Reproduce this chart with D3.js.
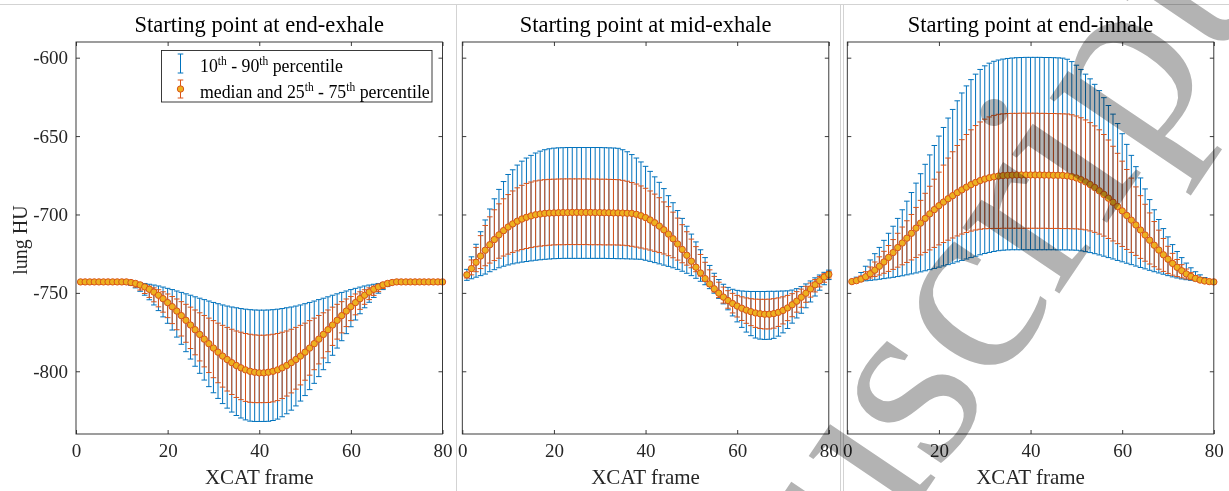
<!DOCTYPE html>
<html>
<head>
<meta charset="utf-8">
<script src="https://cdn.jsdelivr.net/npm/d3@7"></script>
<style>
	body { margin: 0; background: #fff; }
	svg { display: block; font-family: "Liberation Serif", "Times New Roman", serif; }
</style>
</head>
<body>
<svg id="chart" width="1229" height="491"></svg>
<script>
// categories
var frames = [
	1, 2, 3, 4, 5, 6, 7, 8, 9, 10, 11, 12, 13, 14, 15, 16, 17, 18, 19, 20,
	21, 22, 23, 24, 25, 26, 27, 28, 29, 30, 31, 32, 33, 34, 35, 36, 37, 38, 39, 40,
	41, 42, 43, 44, 45, 46, 47, 48, 49, 50, 51, 52, 53, 54, 55, 56, 57, 58, 59, 60,
	61, 62, 63, 64, 65, 66, 67, 68, 69, 70, 71, 72, 73, 74, 75, 76, 77, 78, 79, 80
];
var panelTitles = ["Starting point at end-exhale", "Starting point at mid-exhale", "Starting point at end-inhale"];
var xTicks = [0, 20, 40, 60, 80];
var yTicks = [-600, -650, -700, -750, -800];

// end-exhale
var endExhaleP10 = [
	-743, -743, -743, -743, -743, -743, -743, -743, -743, -743.2,
	-744.0, -745.2, -746.8, -749.0, -751.5, -754.4, -757.7, -761.3, -765.3, -769.4,
	-773.7, -778.2, -782.8, -787.5, -792.2, -796.8, -801.3, -805.6, -809.8, -813.7,
	-817.3, -820.6, -823.5, -826.0, -828.2, -829.8, -831.0, -831.8, -832.0, -832.0,
	-832.0, -831.9, -831.4, -830.5, -829.0, -827.1, -824.8, -822.1, -819.0, -815.5,
	-811.7, -807.7, -803.4, -799.0, -794.5, -789.8, -785.2, -780.5, -776.0, -771.6,
	-767.3, -763.3, -759.5, -756.0, -752.9, -750.2, -747.9, -746.0, -744.5, -743.6,
	-743.1, -743, -743, -743, -743, -743, -743, -743, -743, -743
];
var endExhaleQ25 = [
	-743, -743, -743, -743, -743, -743, -743, -743, -743, -743.2,
	-743.8, -744.9, -746.3, -748.2, -750.4, -752.9, -755.7, -758.9, -762.3, -765.8,
	-769.6, -773.5, -777.5, -781.5, -785.5, -789.5, -793.4, -797.2, -800.8, -804.1,
	-807.3, -810.1, -812.6, -814.8, -816.7, -818.1, -819.2, -819.8, -820.0, -820.0,
	-820.0, -819.9, -819.5, -818.7, -817.4, -815.8, -813.8, -811.4, -808.7, -805.7,
	-802.5, -799.0, -795.3, -791.5, -787.5, -783.5, -779.5, -775.5, -771.5, -767.7,
	-764.0, -760.5, -757.3, -754.3, -751.6, -749.2, -747.2, -745.6, -744.3, -743.5,
	-743.1, -743, -743, -743, -743, -743, -743, -743, -743, -743
];
var endExhaleMedian = [
	-743, -743, -743, -743, -743, -743, -743, -743, -743, -743,
	-743.0, -743.4, -744.0, -744.9, -746.2, -747.7, -749.5, -751.5, -753.7, -756.2,
	-758.8, -761.6, -764.5, -767.5, -770.5, -773.5, -776.5, -779.5, -782.4, -785.2,
	-787.8, -790.3, -792.5, -794.5, -796.3, -797.8, -799.1, -800.0, -800.6, -801.0,
	-801.0, -800.6, -800.0, -799.1, -797.8, -796.3, -794.5, -792.5, -790.3, -787.8,
	-785.2, -782.4, -779.5, -776.5, -773.5, -770.5, -767.5, -764.5, -761.6, -758.8,
	-756.2, -753.7, -751.5, -749.5, -747.7, -746.2, -744.9, -744.0, -743.4, -743.0,
	-743, -743, -743, -743, -743, -743, -743, -743, -743, -743
];
var endExhaleQ75 = [
	-743, -743, -743, -743, -743, -743, -743, -743, -743, -743,
	-743.0, -743.2, -743.6, -744.1, -744.9, -745.7, -746.8, -748.0, -749.3, -750.7,
	-752.3, -753.9, -755.6, -757.3, -759.1, -760.9, -762.7, -764.4, -766.1, -767.7,
	-769.3, -770.7, -772.0, -773.2, -774.3, -775.1, -775.9, -776.4, -776.8, -777.0,
	-777.0, -776.8, -776.4, -775.9, -775.1, -774.3, -773.2, -772.0, -770.7, -769.3,
	-767.7, -766.1, -764.4, -762.7, -760.9, -759.1, -757.3, -755.6, -753.9, -752.3,
	-750.7, -749.3, -748.0, -746.8, -745.7, -744.9, -744.1, -743.6, -743.2, -743.0,
	-743, -743, -743, -743, -743, -743, -743, -743, -743, -743
];
var endExhaleP90 = [
	-743, -743, -743, -743, -743, -743, -743, -743, -743, -743,
	-743.0, -743.1, -743.3, -743.6, -744.0, -744.5, -745.0, -745.6, -746.3, -747.1,
	-747.9, -748.8, -749.7, -750.6, -751.5, -752.5, -753.4, -754.3, -755.2, -756.1,
	-756.9, -757.7, -758.4, -759.0, -759.5, -760.0, -760.4, -760.7, -760.9, -761.0,
	-761.0, -760.9, -760.7, -760.4, -760.0, -759.5, -759.0, -758.4, -757.7, -756.9,
	-756.1, -755.2, -754.3, -753.4, -752.5, -751.5, -750.6, -749.7, -748.8, -747.9,
	-747.1, -746.3, -745.6, -745.0, -744.5, -744.0, -743.6, -743.3, -743.1, -743.0,
	-743, -743, -743, -743, -743, -743, -743, -743, -743, -743
];

// mid-exhale
var midExhaleP10 = [
	-742.0, -741.0, -740.0, -739.0, -738.0, -736.5, -735.2, -734.0, -733.0, -732.2,
	-731.5, -730.9, -730.4, -730.0, -729.6, -729.2, -728.9, -728.6, -728.4, -728.2,
	-728.1, -728.0, -728.0, -728.0, -728.0, -728.0, -728.0, -728.0, -728.0, -728.0,
	-728.0, -728.1, -728.1, -728.2, -728.2, -728.3, -728.4, -728.5, -728.6, -729.2,
	-729.9, -730.7, -731.5, -732.3, -733.1, -734.0, -735.0, -736.2, -737.5, -739.0,
	-740.7, -742.6, -744.8, -747.3, -750.2, -753.5, -757.0, -760.8, -764.7, -768.5,
	-772.0, -775.0, -777.3, -778.8, -779.5, -779.7, -779.6, -779.0, -777.6, -775.5,
	-772.7, -769.3, -766.0, -763.0, -759.5, -755.8, -752.0, -748.3, -744.8, -741.5
];
var midExhaleQ25 = [
	-740.5, -738.5, -736.5, -734.5, -732.7, -731.0, -729.4, -727.9, -726.5, -725.3,
	-724.2, -723.2, -722.4, -721.7, -721.1, -720.6, -720.2, -719.9, -719.6, -719.4,
	-719.3, -719.3, -719.2, -719.2, -719.2, -719.2, -719.2, -719.3, -719.3, -719.3,
	-719.4, -719.4, -719.4, -719.5, -719.6, -719.9, -720.3, -720.8, -721.4, -722.0,
	-722.7, -723.5, -724.3, -725.2, -726.3, -727.6, -729.1, -730.8, -732.3, -734.0,
	-736.5, -739.3, -742.4, -745.8, -749.4, -753.0, -756.5, -759.8, -762.8, -765.4,
	-767.6, -769.4, -770.9, -772.0, -772.7, -773.0, -773.0, -772.5, -771.4, -769.8,
	-767.7, -765.2, -762.3, -759.2, -756.0, -752.7, -749.4, -746.2, -743.2, -740.5
];
var midExhaleMedian = [
	-738.5, -734.5, -730.5, -726.5, -722.8, -719.3, -716.0, -713.0, -710.3, -708.0,
	-706.0, -704.3, -702.9, -701.8, -700.9, -700.2, -699.7, -699.3, -699.1, -699.0,
	-698.9, -698.8, -698.8, -698.7, -698.7, -698.7, -698.7, -698.7, -698.8, -698.8,
	-698.9, -698.9, -699.0, -699.0, -699.1, -699.2, -699.3, -699.9, -700.8, -702.0,
	-703.5, -705.3, -707.4, -709.8, -712.5, -715.5, -718.8, -722.3, -726.0, -729.8,
	-733.6, -737.3, -740.9, -744.3, -747.4, -750.2, -752.7, -754.9, -756.8, -758.4,
	-759.8, -761.0, -762.0, -762.8, -763.3, -763.6, -763.6, -763.2, -762.4, -761.2,
	-759.6, -757.6, -755.3, -752.8, -750.2, -747.5, -744.8, -742.2, -739.9, -738.2
];
var midExhaleQ75 = [
	-737.0, -729.0, -721.0, -713.5, -707.0, -701.5, -697.0, -693.2, -690.0, -687.3,
	-685.0, -683.0, -681.4, -680.2, -679.3, -678.6, -678.1, -677.8, -677.6, -677.5,
	-677.4, -677.3, -677.3, -677.3, -677.3, -677.3, -677.3, -677.4, -677.4, -677.5,
	-677.5, -677.6, -677.7, -677.8, -678.2, -678.8, -679.6, -680.6, -681.8, -683.3,
	-685.0, -687.0, -689.3, -692.0, -695.0, -698.5, -702.3, -706.5, -711.0, -715.7,
	-720.5, -725.5, -730.5, -735.3, -739.5, -743.2, -746.3, -748.6, -750.3, -751.6,
	-752.5, -753.2, -753.7, -754.0, -754.1, -754.1, -754.0, -753.7, -753.2, -752.5,
	-751.6, -750.5, -749.2, -747.6, -745.8, -743.7, -741.5, -739.5, -737.8, -736.5
];
var midExhaleP90 = [
	-735.0, -727.0, -719.0, -711.0, -703.5, -696.5, -690.0, -684.0, -679.0, -674.5,
	-671.5, -668.5, -666.0, -664.0, -662.3, -660.8, -659.6, -658.7, -658.1, -657.7,
	-657.5, -657.4, -657.3, -657.3, -657.3, -657.3, -657.3, -657.3, -657.3, -657.3,
	-657.4, -657.5, -657.6, -657.8, -658.7, -660.0, -661.8, -664.0, -666.5, -669.3,
	-672.5, -676.0, -679.5, -683.5, -688.0, -692.5, -697.5, -702.5, -707.5, -712.5,
	-717.5, -722.5, -727.5, -732.5, -737.5, -741.5, -744.5, -746.5, -747.7, -748.4,
	-748.8, -749.0, -749.1, -749.1, -749.1, -749.1, -749.0, -749.0, -748.9, -748.8,
	-748.7, -748.2, -747.3, -746.0, -744.3, -742.4, -740.4, -738.6, -736.9, -735.5
];

// end-inhale
var endInhaleP10 = [
	-743.0, -742.9, -742.6, -742.3, -742.0, -741.7, -741.3, -740.9, -740.5, -740.1,
	-739.6, -739.1, -738.5, -737.9, -737.3, -736.6, -735.9, -735.2, -734.4, -733.6,
	-732.8, -732.0, -731.1, -730.2, -729.3, -728.4, -727.5, -726.6, -725.7, -724.9,
	-724.2, -723.6, -723.1, -722.8, -722.6, -722.5, -722.5, -722.5, -722.5, -722.5,
	-722.5, -722.5, -722.5, -722.5, -722.5, -722.6, -722.6, -722.6, -722.7, -722.8,
	-723.2, -723.7, -724.3, -725.0, -725.8, -726.6, -727.5, -728.4, -729.3, -730.2,
	-731.1, -732.0, -732.9, -733.8, -734.7, -735.6, -736.5, -737.3, -738.1, -739.0,
	-739.8, -740.5, -741.1, -741.6, -742.0, -742.3, -742.6, -742.8, -742.9, -743.0
];
var endInhaleQ25 = [
	-743.0, -742.6, -742.0, -741.3, -740.5, -739.6, -738.6, -737.5, -736.3, -735.0,
	-733.6, -732.1, -730.6, -729.0, -727.4, -725.8, -724.2, -722.6, -721.0, -719.4,
	-717.9, -716.4, -715.0, -713.7, -712.5, -711.5, -710.6, -709.9, -709.4, -709.1,
	-709.0, -708.9, -708.9, -708.8, -708.8, -708.8, -708.8, -708.8, -708.8, -708.8,
	-708.8, -708.8, -708.8, -708.9, -708.9, -708.9, -709.0, -709.0, -709.1, -709.2,
	-709.4, -709.8, -710.5, -711.4, -712.5, -713.8, -715.3, -716.9, -718.6, -720.4,
	-722.3, -724.2, -726.1, -728.0, -729.8, -731.6, -733.3, -734.9, -736.3, -737.6,
	-738.7, -739.6, -740.4, -741.1, -741.6, -742.1, -742.4, -742.7, -742.9, -743.0
];
var endInhaleMedian = [
	-742.8, -742.2, -741.2, -739.7, -737.8, -735.5, -733.0, -730.3, -727.4, -724.3,
	-721.1, -718.2, -715.1, -712.0, -708.7, -705.5, -702.5, -699.6, -696.9, -694.4,
	-692.1, -690.0, -688.0, -686.1, -684.3, -682.6, -681.0, -679.6, -678.4, -677.4,
	-676.6, -676.0, -675.5, -675.2, -675.0, -674.9, -674.8, -674.8, -674.8, -674.8,
	-674.8, -674.8, -674.9, -674.9, -675.0, -675.0, -675.1, -675.4, -675.9, -676.7,
	-677.8, -679.2, -680.9, -682.8, -684.9, -687.2, -689.6, -692.2, -694.9, -697.7,
	-700.6, -703.6, -706.7, -709.9, -713.1, -716.4, -719.6, -722.7, -725.7, -728.5,
	-731.2, -733.7, -735.9, -737.9, -739.5, -740.8, -741.8, -742.4, -742.8, -743.0
];
var endInhaleQ75 = [
	-742.8, -741.5, -739.3, -736.5, -733.5, -730.3, -727.0, -723.5, -719.8, -716.0,
	-712.0, -708.0, -704.0, -700.0, -695.5, -691.0, -686.5, -682.0, -677.5, -673.0,
	-668.5, -664.0, -660.0, -656.0, -652.3, -649.0, -646.0, -643.3, -641.0, -639.2,
	-637.8, -636.8, -636.1, -635.8, -635.6, -635.5, -635.5, -635.4, -635.4, -635.4,
	-635.4, -635.5, -635.5, -635.6, -635.6, -635.7, -635.8, -635.9, -636.4, -637.2,
	-638.3, -639.7, -641.4, -643.5, -646.0, -649.0, -652.5, -656.5, -661.0, -666.0,
	-671.3, -676.8, -682.4, -688.0, -693.5, -699.0, -704.5, -710.0, -715.3, -720.3,
	-724.8, -728.7, -732.0, -734.8, -737.1, -739.0, -740.5, -741.6, -742.4, -743.0
];
var endInhaleP90 = [
	-742.0, -740.0, -737.0, -733.0, -729.0, -725.0, -721.0, -716.5, -712.0, -707.5,
	-702.5, -697.0, -691.5, -686.0, -680.0, -674.0, -668.0, -662.0, -656.0, -650.0,
	-644.5, -638.5, -633.0, -627.5, -622.5, -618.0, -614.0, -610.5, -607.5, -605.2,
	-603.5, -602.3, -601.5, -600.9, -600.5, -600.2, -600.0, -599.9, -599.8, -599.8,
	-599.8, -599.8, -599.9, -599.9, -600.0, -600.1, -600.3, -601.0, -602.5, -604.8,
	-607.5, -610.5, -613.5, -617.0, -621.0, -625.5, -630.5, -636.0, -642.0, -648.5,
	-655.3, -662.3, -669.5, -676.7, -683.7, -690.5, -697.0, -703.2, -709.0, -714.3,
	-719.2, -723.6, -727.5, -731.0, -734.0, -736.5, -738.5, -740.2, -741.5, -742.5
];

var ErrorBarPanel = {
	top: 42,
	height: 392,
	width: 366.5,
	tickLength: 4,
	capHalfWidth: 2.8,
	markerRadius: 3.2,
	colour: {
		outer: "#0072BD",
		inner: "#D95319",
		markerFill: "#EDB120",
		axis: "#262626"
	},

	render: function(svg, left, title, series, showYTickLabels) {
		var self = this;
		var group = svg.append("g").attr("class", "panel");

		// scales
		var xScale = d3.scaleLinear()
			.domain([0, 80])
			.range([left, left + self.width]);
		var yScale = d3.scaleLinear()
			.domain([-840, -590])
			.range([self.top + self.height, self.top]);

		var rows = frames.map(function(frame, i) {
			return {
				frame: frame,
				p10: series.p10[i],
				q25: series.q25[i],
				median: series.median[i],
				q75: series.q75[i],
				p90: series.p90[i]
			};
		});

		// 10th - 90th percentile bars first, quartile bars on top
		self.drawErrorBars(group, rows, "p10", "p90", self.colour.outer, xScale, yScale);
		self.drawErrorBars(group, rows, "q25", "q75", self.colour.inner, xScale, yScale);

		var medianLine = d3.line()
			.x(function(d) { return xScale(d.frame); })
			.y(function(d) { return yScale(d.median); });
		group.append("path")
			.datum(rows)
			.attr("d", medianLine)
			.style("fill", "none")
			.style("stroke", self.colour.inner)
			.style("stroke-width", 1);
		group.selectAll(".median-marker")
			.data(rows)
			.enter()
			.append("circle")
			.attr("class", "median-marker")
			.attr("cx", function(d) { return xScale(d.frame); })
			.attr("cy", function(d) { return yScale(d.median); })
			.attr("r", self.markerRadius)
			.style("fill", self.colour.markerFill)
			.style("stroke", self.colour.inner)
			.style("stroke-width", 1);

		// axes box
		group.append("rect")
			.attr("x", left)
			.attr("y", self.top)
			.attr("width", self.width)
			.attr("height", self.height)
			.style("fill", "none")
			.style("stroke", self.colour.axis)
			.style("stroke-width", 0.9);

		// plain hyphen for negative labels, as in the original
		var plainNumber = function(d) { return String(d); };

		var bottomAxis = d3.axisBottom(xScale)
			.tickValues(xTicks)
			.tickSizeInner(-self.tickLength)
			.tickSizeOuter(0)
			.tickPadding(10)
			.tickFormat(plainNumber);
		var topAxis = d3.axisTop(xScale)
			.tickValues(xTicks)
			.tickSizeInner(-self.tickLength)
			.tickSizeOuter(0)
			.tickFormat("");
		var leftAxis = d3.axisLeft(yScale)
			.tickValues(yTicks)
			.tickSizeInner(-self.tickLength)
			.tickSizeOuter(0)
			.tickPadding(8)
			.tickFormat(showYTickLabels ? plainNumber : "");
		var rightAxis = d3.axisRight(yScale)
			.tickValues(yTicks)
			.tickSizeInner(-self.tickLength)
			.tickSizeOuter(0)
			.tickFormat("");

		group.append("g").attr("class", "axis x")
			.attr("transform", "translate(0," + (self.top + self.height) + ")")
			.call(bottomAxis);
		group.append("g").attr("class", "axis x-top")
			.attr("transform", "translate(0," + self.top + ")")
			.call(topAxis);
		group.append("g").attr("class", "axis y")
			.attr("transform", "translate(" + left + ",0)")
			.call(leftAxis);
		group.append("g").attr("class", "axis y-right")
			.attr("transform", "translate(" + (left + self.width) + ",0)")
			.call(rightAxis);

		group.selectAll(".axis")
			.attr("font-family", null)
			.attr("font-size", null);
		group.selectAll(".axis .domain").remove();
		group.selectAll(".axis line")
			.style("stroke", self.colour.axis)
			.style("stroke-width", 0.9);
		group.selectAll(".axis text")
			.style("fill", self.colour.axis)
			.style("font-size", "19px");

		// title and x label
		group.append("text")
			.attr("x", left + self.width / 2)
			.attr("y", 32)
			.style("text-anchor", "middle")
			.style("font-size", "22.5px")
			.style("fill", "#000")
			.text(title);
		group.append("text")
			.attr("x", left + self.width / 2)
			.attr("y", 484)
			.style("text-anchor", "middle")
			.style("font-size", "21px")
			.style("fill", self.colour.axis)
			.text("XCAT frame");
	},
	drawErrorBars: function(group, rows, lowKey, highKey, colour, xScale, yScale) {
		var self = this;
		var c = self.capHalfWidth;

		group.append("g")
			.attr("class", "bars-" + lowKey)
			.selectAll("path")
			.data(rows)
			.enter()
			.append("path")
			.attr("d", function(d) {
				var x = xScale(d.frame);
				var yLow = yScale(d[lowKey]);
				var yHigh = yScale(d[highKey]);
				return "M" + x + "," + yLow + "V" + yHigh +
					"M" + (x - c) + "," + yLow + "H" + (x + c) +
					"M" + (x - c) + "," + yHigh + "H" + (x + c);
			})
			.style("fill", "none")
			.style("stroke", colour)
			.style("stroke-width", 1);
	}
};

var Legend = {
	render: function(svg) {
		var colour = ErrorBarPanel.colour;
		var group = svg.append("g").attr("class", "legend");

		group.append("rect")
			.attr("x", 161.5)
			.attr("y", 50.5)
			.attr("width", 270.5)
			.attr("height", 51.5)
			.style("fill", "#fff")
			.style("stroke", colour.axis)
			.style("stroke-width", 0.9);

		// icons
		var icons = [
			{ y0: 54, y1: 73, stroke: colour.outer, marker: false },
			{ y0: 80, y1: 98, stroke: colour.inner, marker: true }
		];
		icons.forEach(function(icon) {
			group.append("path")
				.attr("d", "M180.5," + icon.y0 + "V" + icon.y1 +
					"M177.7," + icon.y0 + "H183.3M177.7," + icon.y1 + "H183.3")
				.style("fill", "none")
				.style("stroke", icon.stroke)
				.style("stroke-width", 1);
			if (icon.marker) {
				group.append("circle")
					.attr("cx", 180.5)
					.attr("cy", (icon.y0 + icon.y1) / 2)
					.attr("r", ErrorBarPanel.markerRadius)
					.style("fill", colour.markerFill)
					.style("stroke", colour.inner);
			}
		});

		// labels with superscripts
		var labels = [
			{ y: 72, parts: [["10", false], ["th", true], [" - 90", false], ["th", true], [" percentile", false]] },
			{ y: 98, parts: [["median and 25", false], ["th", true], [" - 75", false], ["th", true], [" percentile", false]] }
		];
		labels.forEach(function(label) {
			var text = group.append("text")
				.attr("x", 200)
				.attr("y", label.y)
				.style("font-size", "17.8px")
				.style("fill", "#000");
			var raised = false;
			label.parts.forEach(function(part) {
				var dy = 0;
				if (part[1] && !raised) dy = -7;
				if (!part[1] && raised) dy = 7;
				raised = part[1];
				text.append("tspan")
					.attr("dy", dy)
					.style("font-size", part[1] ? "11.5px" : null)
					.text(part[0]);
			});
		});
	}
};

var svg = d3.select("#chart");

// page cell frame
var frameLines = svg.append("g").attr("class", "cell-frame")
	.style("stroke", "#d3d3d3")
	.style("stroke-width", 1);
frameLines.append("line").attr("x1", 0).attr("x2", 1229).attr("y1", 4.5).attr("y2", 4.5);
[456.5, 840.5, 843.5].forEach(function(x) {
	frameLines.append("line").attr("x1", x).attr("x2", x).attr("y1", 4.5).attr("y2", 491);
});

var panelSeries = [
	{ p10: endExhaleP10, q25: endExhaleQ25, median: endExhaleMedian, q75: endExhaleQ75, p90: endExhaleP90 },
	{ p10: midExhaleP10, q25: midExhaleQ25, median: midExhaleMedian, q75: midExhaleQ75, p90: midExhaleP90 },
	{ p10: endInhaleP10, q25: endInhaleQ25, median: endInhaleMedian, q75: endInhaleQ75, p90: endInhaleP90 }
];
var panelLefts = [76, 462.3, 847.3];

panelSeries.forEach(function(series, i) {
	ErrorBarPanel.render(svg, panelLefts[i], panelTitles[i], series, i === 0);
});

svg.append("text")
	.attr("transform", "translate(27,240) rotate(-90)")
	.style("text-anchor", "middle")
	.style("font-size", "20px")
	.style("fill", ErrorBarPanel.colour.axis)
	.text("lung HU");

Legend.render(svg);

// watermark over the right panel
svg.append("text")
	.attr("transform", "translate(605,967) rotate(-56)")
	.style("font-size", "255px")
	.style("fill", "#b3b3b3")
	.style("mix-blend-mode", "multiply")
	.text("Manuscript");
</script>
</body>
</html>
